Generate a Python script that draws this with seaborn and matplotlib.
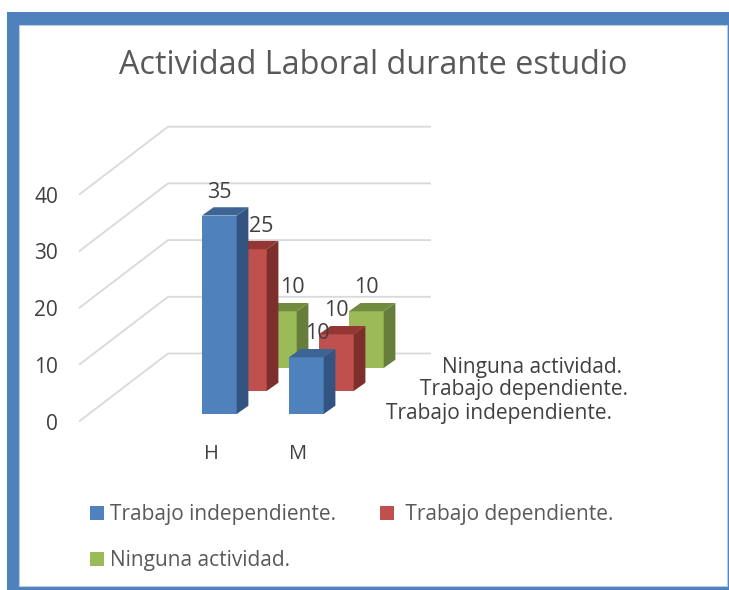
import matplotlib
matplotlib.use("Agg")
import matplotlib.pyplot as plt
from matplotlib.patches import Patch, Rectangle, Polygon
import seaborn as sns

categories = ["H", "M"]
independiente = [35, 10]
dependiente = [25, 10]
ninguna = [10, 10]
series_names = ["Trabajo independiente.", "Trabajo dependiente.", "Ninguna actividad."]
yticks_values = [0, 10, 20, 30, 40]
title_text = "Actividad Laboral durante estudio"

W, H = 729, 590
sns.set_theme(style="white")
FONT = "Open Sans"
plt.rcParams["font.family"] = [FONT, "DejaVu Sans"]
GREY = "#595959"
LABEL = "#404040"

fig = plt.figure(figsize=(W / 100, H / 100), dpi=100, facecolor="white")

def px_rect(x0, y0, x1, y1, **kw):
    fig.add_artist(Rectangle((x0 / W, 1 - y1 / H), (x1 - x0) / W, (y1 - y0) / H,
                             transform=fig.transFigure, **kw))

px_rect(6.5, 11.5, W, H, facecolor="#4f81bd", edgecolor="none", zorder=-3)
px_rect(19, 24.5, 727, 585.5, facecolor="white", edgecolor="#b9cde5", linewidth=0.8, zorder=-2)

ax = fig.add_axes([79 / W, 1 - 421.5 / H, (431 - 79) / W, (421.5 - 127) / H], facecolor="none")

PX_X = 87.0
PX_Y = 5.67
BASE = 7.5 / PX_Y
BLUE_SHIFT = 8.3 / PX_X
SERIES_DX = 30.0 / PX_X
SERIES_DY = 23.0 / PX_Y
SIDE_DX = 11.7 / PX_X
SIDE_DY = 8.3 / PX_Y
WALL_DX = 89.0 / PX_X
WALL_DY = 68.0 / PX_Y

styles = [
    (independiente, "#4f81bd", "#335480", "#3c6494", [(0, 23.5 * .72), (11 * .72, 23.5 * .72)]),
    (dependiente, "#c0504d", "#7d2f2c", "#943634", [(12 * .72, 22.5 * .72), (0, 23.5 * .72)]),
    (ninguna, "#9bbb59", "#677d3b", "#728c3f", [(13 * .72, 23.5 * .72), (0, 23.5 * .72)]),
]

for i in [2, 1, 0]:
    vals, front, side, top, nudges = styles[i]
    n0 = len(ax.patches)
    sns.barplot(x=categories, y=vals, color=front, width=0.4, saturation=1,
                errorbar=None, ax=ax)
    bars = list(ax.patches[n0:])
    for bar, v, nudge in zip(bars, vals, nudges):
        bar.set_x(bar.get_x() + BLUE_SHIFT + i * SERIES_DX)
        bar.set_y(BASE + i * SERIES_DY)
        bar.set_linewidth(0)
        z = 5 - i
        bar.set_zorder(z)
        x0 = bar.get_x(); x1 = x0 + bar.get_width()
        y0 = bar.get_y(); y1 = y0 + bar.get_height()
        ax.add_patch(Polygon([(x1, y0), (x1 + SIDE_DX, y0 + SIDE_DY),
                              (x1 + SIDE_DX, y1 + SIDE_DY), (x1, y1)],
                             facecolor=side, edgecolor="none", zorder=z))
        ax.add_patch(Polygon([(x0, y1), (x1, y1), (x1 + SIDE_DX, y1 + SIDE_DY),
                              (x0 + SIDE_DX, y1 + SIDE_DY)],
                             facecolor=top, edgecolor="none", zorder=z))
        ax.annotate(str(v), xy=((x0 + x1) / 2, y1), xytext=nudge,
                    textcoords="offset points", ha="center", va="center",
                    fontsize=15.5, color=LABEL, zorder=10, annotation_clip=False)

ax.set_xlim(-132 / PX_X, 220 / PX_X)
ax.set_ylim(0, 294.5 / PX_Y)
ax.set_yticks(yticks_values)
ax.tick_params(axis="y", length=0, pad=15, labelsize=15, labelcolor=LABEL)
ax.tick_params(axis="x", length=0, pad=16.5, labelsize=14.5, labelcolor=LABEL)
ax.set_xlabel(""); ax.set_ylabel("")
sns.despine(ax=ax, left=True, bottom=True, top=True, right=True)
ax.grid(False)

xl = ax.get_xlim()
for v in yticks_values:
    ax.plot([xl[0], xl[0] + WALL_DX, xl[1]], [v, v + WALL_DY, v + WALL_DY],
            color="#d9d9d9", lw=1.3, zorder=0.5, clip_on=False, solid_capstyle="butt")

fig.text(373.5 / W, 1 - 65 / H, title_text, ha="center", va="center", fontsize=23.35, color=GREY)

for name, x, y, ha in [(series_names[2], 622, 368, "right"),
                       (series_names[1], 628, 389, "right"),
                       (series_names[0], 612, 413, "right")]:
    fig.text(x / W, 1 - y / H, name, ha=ha, va="center", fontsize=15, color=LABEL)

colors = ["#4f81bd", "#9bbb59", "#c0504d"]
labels = [series_names[0], series_names[2], " " + series_names[1]]
handles = [Patch(facecolor=c, edgecolor="none") for c in colors]
fig.legend(handles, labels, ncol=2, frameon=False, loc="upper left",
           bbox_to_anchor=(84 / W, 1 - 498 / H), fontsize=15, labelcolor=GREY,
           handlelength=0.66, handleheight=0.66, handletextpad=0.3,
           columnspacing=2.1, labelspacing=1.2, borderpad=0.3, borderaxespad=0)

fig.savefig("out.png", dpi=100)
